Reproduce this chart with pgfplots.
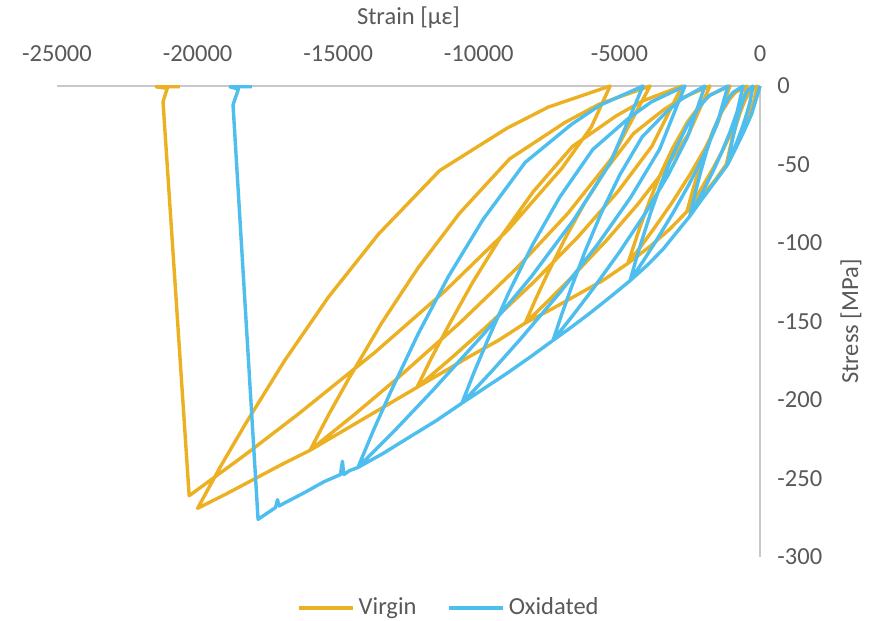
\documentclass[border=0pt]{standalone}
\usepackage{pgfplots}
\pgfplotsset{compat=1.18}
\usepackage{fontspec}
\setmainfont{Carlito}
\definecolor{virgin}{RGB}{236,176,35}
\definecolor{oxid}{RGB}{77,190,238}
\definecolor{txt}{RGB}{89,89,89}
\definecolor{axl}{RGB}{200,200,200}
\begin{document}
\fontsize{12.3}{14.8}\selectfont
\begin{tikzpicture}
\begin{axis}[
 scale only axis, width=351.5bp, height=235.5bp,
 xmin=-25000, xmax=0, ymin=-300, ymax=0,
 axis x line=top, axis y line=right,
 axis line style={-, draw=axl, line width=0.9bp},
 xtick={-25000,-20000,-15000,-10000,-5000,0},
 xticklabels={{-25000},{-20000},{-15000},{-10000},{-5000},{0}},
 ytick={-300,-250,-200,-150,-100,-50,0},
 yticklabels={{-300},{-250},{-200},{-150},{-100},{-50},{0}},
 major tick length=0pt,
 tick style={draw=none},
 scaled ticks=false,
 xticklabel style={anchor=base, inner sep=0pt, yshift=12.5bp, text=txt},
 yticklabel style={anchor=west, inner sep=0pt, xshift=8.5bp, text=txt},
 every axis x label/.style={at={(axis description cs:0.5,1)}, anchor=center, yshift=34bp, text=txt},
 every axis y label/.style={at={(axis description cs:1,0.5)}, anchor=center, rotate=90, yshift=-45.5bp, text=txt},
 xlabel={Strain [µε]}, ylabel={Stress [MPa]},
 clip=false,
 legend style={at={(axis description cs:0.559,-0.108)}, anchor=center, draw=none, fill=none, legend columns=2, text=txt, /tikz/every even column/.append style={column sep=13.5bp}},
 legend image code/.code={\draw[#1, line width=1.7bp] (0bp,0bp) -- (27bp,0bp);},
]
\addplot[virgin, line width=1.7bp, line join=round] coordinates {
(0,0) (-250,-14) (-500,-25) (-850,-38) (-1200,-50)
(-1072,-40) (-968,-32.5) (-851,-25) (-717,-17.5) (-554,-10) (-410,-5) (-311,-2.5) (-100,0)
(-225,-10) (-366,-17.5) (-531,-25) (-715,-32.5) (-914,-40) (-1054,-45) (-1200,-50)
(-1600,-60) (-2100,-71) (-2600,-80)
(-2352,-64) (-2148,-52) (-1922,-40) (-1661,-28) (-1344,-16) (-1063,-8) (-871,-4) (-460,0)
(-704,-16) (-978,-28) (-1299,-40) (-1656,-52) (-2044,-64) (-2315,-72) (-2600,-80)
(-3200,-91) (-3900,-102) (-4700,-113)
(-4279,-90.4) (-3934,-73.5) (-3549,-56.5) (-3106,-39.6) (-2569,-22.6) (-2094,-11.3) (-1767,-5.65) (-1070,0)
(-1484,-22.6) (-1948,-39.6) (-2493,-56.5) (-3099,-73.5) (-3756,-90.4) (-4217,-101.7) (-4700,-113)
(-5600,-124) (-6500,-133) (-7400,-142) (-8350,-151)
(-7982,-135.9) (-7588,-120.8) (-6964,-98.2) (-6267,-75.5) (-5466,-52.9) (-4493,-30.2) (-3423,-15.1) (-2766,-7.55) (-1780,0)
(-2529,-30.2) (-3370,-52.9) (-4355,-75.5) (-5453,-98.2) (-6642,-120.8) (-7476,-135.9) (-8350,-151)
(-9300,-162) (-10300,-172) (-11250,-182) (-12200,-192)
(-11672,-172.8) (-11106,-153.6) (-10210,-124.8) (-9211,-96) (-8060,-67.2) (-6665,-38.4) (-5128,-19.2) (-4185,-9.6) (-2770,0)
(-3845,-38.4) (-5052,-67.2) (-6467,-96) (-8041,-124.8) (-9748,-153.6) (-10946,-172.8) (-12200,-192)
(-13150,-202) (-14100,-212) (-15050,-222) (-16000,-232)
(-15323,-208.8) (-14598,-185.6) (-13449,-150.8) (-12167,-116) (-10692,-81.2) (-8903,-46.4) (-6933,-23.2) (-5724,-11.6) (-3910,0)
(-5288,-46.4) (-6836,-81.2) (-8649,-116) (-10668,-150.8) (-12857,-185.6) (-14392,-208.8) (-16000,-232)
(-17000,-241) (-18000,-250.5) (-19000,-260) (-20000,-269)
(-19178,-242.1) (-18298,-215.2) (-16905,-174.9) (-15350,-134.5) (-13560,-94.2) (-11389,-53.8) (-9000,-26.9) (-7530,-13.45) (-5330,0)
(-5999,-26.1) (-7037,-52.2) (-8953,-91.4) (-11198,-130.5) (-13698,-169.7) (-16408,-208.8) (-18309,-234.9) (-20300,-261)
(-21230,-10) (-21080,-1.5) (-21480,-0.5) (-20630,-0.5)
};
\addlegendentry{Virgin}
\addplot[oxid, line width=1.7bp, line join=round] coordinates {
(0,0) (-300,-18) (-600,-30) (-900,-41) (-1150,-50)
(-1046,-40) (-960,-32.5) (-865,-25) (-755,-17.5) (-622,-10) (-504,-5) (-423,-2.5) (-250,0)
(-353,-10) (-468,-17.5) (-603,-25) (-753,-32.5) (-916,-40) (-1030,-45) (-1150,-50)
(-1600,-61) (-2100,-73) (-2500,-83)
(-2280,-66.4) (-2099,-54) (-1898,-41.5) (-1666,-29) (-1385,-16.6) (-1136,-8.3) (-965,-4.15) (-600,0)
(-817,-16.6) (-1060,-29) (-1345,-41.5) (-1662,-54) (-2006,-66.4) (-2247,-74.7) (-2500,-83)
(-3000,-94) (-3450,-104) (-4000,-114) (-4620,-124)
(-4425,-111.6) (-4216,-99.2) (-3886,-80.6) (-3517,-62) (-3092,-43.4) (-2577,-24.8) (-2121,-12.4) (-1808,-6.2) (-1140,0)
(-1537,-24.8) (-1982,-43.4) (-2504,-62) (-3085,-80.6) (-3715,-99.2) (-4157,-111.6) (-4620,-124)
(-5300,-134) (-6000,-144) (-6700,-153.5) (-7360,-162)
(-7058,-145.8) (-6734,-129.6) (-6221,-105.3) (-5648,-81) (-4989,-56.7) (-4190,-32.4) (-3310,-16.2) (-2770,-8.1) (-1960,0)
(-2576,-32.4) (-3267,-56.7) (-4077,-81) (-4979,-105.3) (-5956,-129.6) (-6642,-145.8) (-7360,-162)
(-8200,-173) (-9000,-183) (-9800,-192.5) (-10600,-202)
(-10156,-181.8) (-9680,-161.6) (-8927,-131.3) (-8086,-101) (-7119,-70.7) (-5945,-40.4) (-4653,-20.2) (-3860,-10.1) (-2670,0)
(-3574,-40.4) (-4589,-70.7) (-5779,-101) (-7103,-131.3) (-8538,-161.6) (-9545,-181.8) (-10600,-202)
(-11500,-213) (-12500,-224) (-13400,-234) (-14300,-243)
(-13732,-218.7) (-13124,-194.4) (-12160,-158) (-11086,-121.5) (-9849,-85) (-8348,-48.6) (-6695,-24.3) (-5681,-12.15) (-4160,0)
(-5316,-48.6) (-6614,-85) (-8135,-121.5) (-9828,-158) (-11664,-194.4) (-12951,-218.7) (-14300,-243)
(-14600,-245) (-14800,-247.5) (-14850,-239) (-14920,-247.5) (-15500,-252) (-16200,-259) (-16900,-265.5) (-17100,-267.5) (-17160,-263.5) (-17230,-268.5) (-17850,-276)
(-18740,-12) (-18550,-2) (-18850,-0.5) (-18070,-0.5)
};
\addlegendentry{Oxidated}
\end{axis}
\pgfresetboundingbox
\path[use as bounding box] (-28.5bp,-32bp) rectangle (407bp,278.5bp);
\end{tikzpicture}
\end{document}
